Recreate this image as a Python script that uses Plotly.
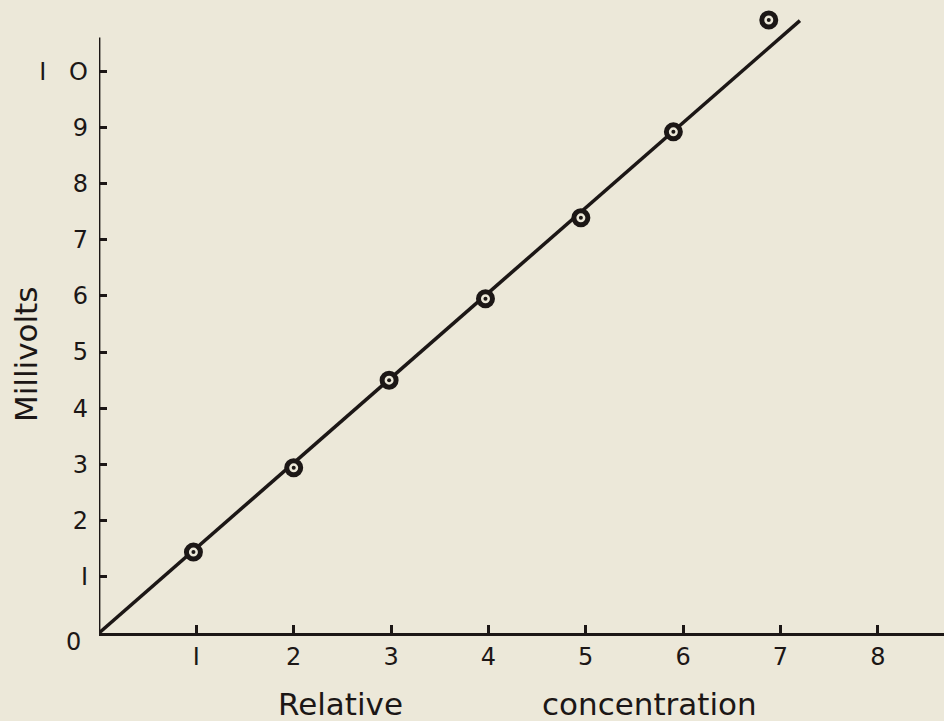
import plotly.graph_objects as go

# Data
conc = [0.97, 2.0, 2.98, 3.97, 4.95, 5.9, 6.88]
millivolts = [1.44, 2.94, 4.50, 5.95, 7.39, 8.92, 10.91]
fit_x = [0, 7.2]
fit_y = [0, 10.9]
x_ticks = [1, 2, 3, 4, 5, 6, 7, 8]
x_ticktext = ["I", "2", "3", "4", "5", "6", "7", "8"]
y_ticks = [1, 2, 3, 4, 5, 6, 7, 8, 9, 10]
y_ticktext = ["I", "2", "3", "4", "5", "6", "7", "8", "9", "I\u00a0\u00a0\u00a0O"]
y_axis_top = 10.6

ink = "#1c1716"
bg = "#ece8d9"
font_family = "DejaVu Sans, Liberation Sans, sans-serif"

W, H = 944, 721
ML, MR, MT, MB = 99, 0, 6, 88

fig = go.Figure()
fig.add_trace(go.Scatter(x=fit_x, y=fit_y, mode="lines",
                         line=dict(color=ink, width=3.5), hoverinfo="skip",
                         showlegend=False))
fig.add_trace(go.Scatter(x=conc, y=millivolts, mode="markers",
                         marker=dict(symbol="circle", size=14, color=bg,
                                     line=dict(color=ink, width=5)),
                         showlegend=False))
fig.add_trace(go.Scatter(x=conc, y=millivolts, mode="markers",
                         marker=dict(symbol="circle", size=4, color=ink),
                         showlegend=False))

fig.update_layout(
    width=W, height=H,
    paper_bgcolor=bg, plot_bgcolor=bg,
    margin=dict(l=ML, r=MR, t=MT, b=MB),
    font=dict(family=font_family, color=ink, size=24),
    xaxis=dict(range=[0, 8.68], tickvals=x_ticks, ticktext=x_ticktext,
               ticks="inside", ticklen=8, tickwidth=2.5, tickcolor=ink,
               showline=True, linecolor=ink, linewidth=2.8,
               showgrid=False, zeroline=False, fixedrange=True,
               tickfont=dict(size=24, family=font_family)),
    yaxis=dict(range=[0, 11.16], tickvals=y_ticks, ticktext=y_ticktext,
               ticks="inside", ticklen=8, tickwidth=2.5, tickcolor=ink,
               ticklabelstandoff=10,
               showline=False, showgrid=False, zeroline=False, fixedrange=True,
               tickfont=dict(size=24, family=font_family)),
)

# vertical axis line (ends a little above 10, as in the reference)
fig.add_shape(type="line", xref="x", yref="y", x0=0, x1=0, y0=0, y1=y_axis_top,
              line=dict(color=ink, width=2.8))

fig.add_annotation(text="0", x=0, y=0, xref="x", yref="y", showarrow=False,
                   xanchor="right", yanchor="middle", xshift=-16, yshift=-9,
                   font=dict(size=24, family=font_family, color=ink))


def px_to_paper(px, py):
    return (px - ML) / (W - ML - MR), (H - py - MB) / (H - MT - MB)


for text, px, py, ang in [("Relative", 340, 704, 0),
                          ("concentration", 649, 704, 0),
                          ("Millivolts", 26, 355, -90)]:
    ax, ay = px_to_paper(px, py)
    fig.add_annotation(text=text, x=ax, y=ay, xref="paper", yref="paper",
                       xanchor="center", yanchor="middle", showarrow=False,
                       textangle=ang,
                       font=dict(size=31, family=font_family, color=ink))

fig.write_html(
    "out.html",
    config={"displayModeBar": False},
    post_script="document.body.style.margin='0';document.body.style.padding='0';"
                "document.body.style.background='#ece8d9';"
                "document.documentElement.style.overflow='hidden';",
)
